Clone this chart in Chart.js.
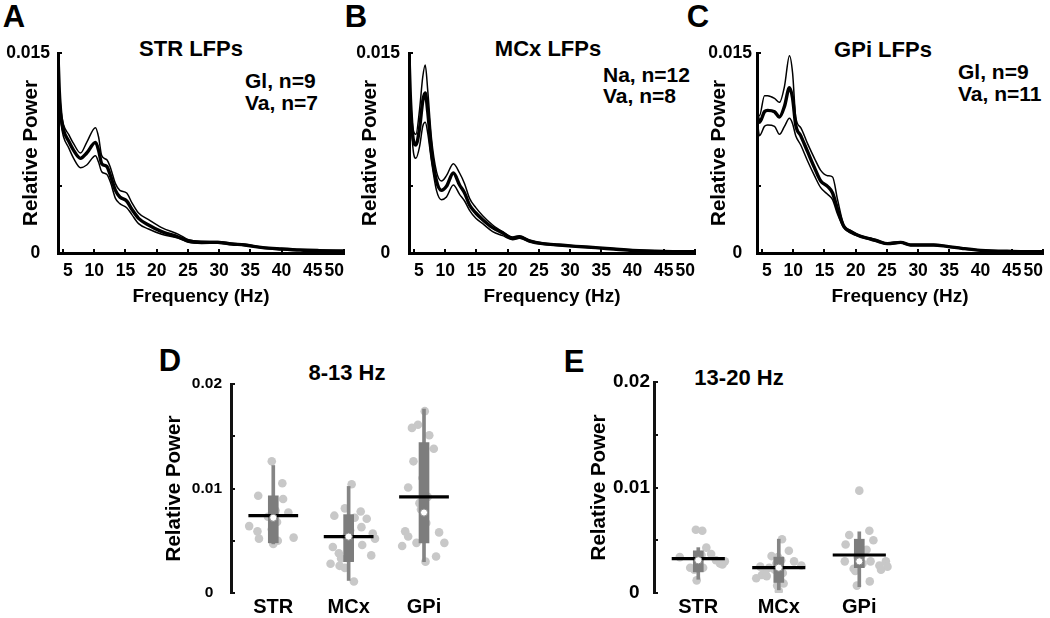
<!DOCTYPE html>
<html><head><meta charset="utf-8">
<script src="https://cdn.jsdelivr.net/npm/chart.js@4.4.0/dist/chart.umd.min.js"></script>
<style>
html,body{margin:0;padding:0;background:#fff;}
#wrap{position:relative;width:1050px;height:618px;overflow:hidden;background:#fff;font-family:"Liberation Sans",Arial,sans-serif;font-weight:bold;color:#000;}
canvas{position:absolute;}
.t{position:absolute;white-space:nowrap;line-height:1;font-weight:bold;}
.c{transform:translate(-50%,-50%);}
.l{transform:translateY(-50%);}
</style></head><body><div id="wrap">
<div class="t c" style="left:14px;top:16px;font-size:31px">A</div>
<div class="t c" style="left:356px;top:16px;font-size:31px">B</div>
<div class="t c" style="left:698px;top:16px;font-size:31px">C</div>
<div class="t c" style="left:170px;top:360px;font-size:31px">D</div>
<div class="t c" style="left:574px;top:361px;font-size:31px">E</div>
<div class="t c" style="left:191px;top:49px;font-size:22px">STR LFPs</div>
<div class="t c" style="left:548px;top:49px;font-size:22px">MCx LFPs</div>
<div class="t c" style="left:883px;top:50px;font-size:22px">GPi LFPs</div>
<div class="t l" style="left:245px;top:80px;font-size:21px">Gl, n=9</div>
<div class="t l" style="left:245px;top:102px;font-size:21px">Va, n=7</div>
<div class="t l" style="left:603px;top:74px;font-size:21px">Na, n=12</div>
<div class="t l" style="left:603px;top:95px;font-size:21px">Va, n=8</div>
<div class="t l" style="left:958px;top:71px;font-size:21px">Gl, n=9</div>
<div class="t l" style="left:958px;top:93px;font-size:21px">Va, n=11</div>
<div class="t c" style="left:347px;top:373px;font-size:22px">8-13 Hz</div>
<div class="t c" style="left:739px;top:378px;font-size:22px">13-20 Hz</div>
</div>
<script>
// ---------------- data ----------------
const xTickVals = [5, 10, 15, 20, 25, 30, 35, 40, 45, 50];
const specYTickVals = [0, 0.005, 0.01, 0.015];
const specYTickLabels = ['0', '', '', '0.015'];

// A: STR LFPs
const aFreq  = [4.2, 4.4, 4.7, 5.1, 5.9, 6.7, 7.8, 8.8, 10.2, 10.7, 11.2, 12.0, 12.6, 13.4, 14.1, 15.2, 16.0, 17.1, 18.7, 20.8, 23.5, 25.1, 27.2, 29.8, 32.0, 34.1, 37, 40, 43, 46, 50];
const aMean  = [0.0149, 0.0122, 0.0102, 0.0092, 0.0084, 0.0077, 0.0071, 0.0075, 0.0083, 0.0077, 0.0067, 0.0065, 0.0058, 0.0047, 0.0042, 0.0039, 0.0033, 0.0026, 0.0021, 0.0016, 0.0012, 0.0009, 0.0008, 0.0008, 0.00068, 0.0006, 0.0004, 0.0003, 0.00022, 0.00018, 0.00015];
const aUpper = [0.0150, 0.0125, 0.0106, 0.0096, 0.0089, 0.0082, 0.0075, 0.0083, 0.0094, 0.0087, 0.0073, 0.0070, 0.0064, 0.0052, 0.0047, 0.0045, 0.0038, 0.0030, 0.0025, 0.0019, 0.0014, 0.0010, 0.00088, 0.00086, 0.00073, 0.00065, 0.00044, 0.00033, 0.00025, 0.0002, 0.00017];
const aLower = [0.0148, 0.0117, 0.0097, 0.0087, 0.0079, 0.0071, 0.0064, 0.0066, 0.0073, 0.0068, 0.0061, 0.0059, 0.0053, 0.0041, 0.0037, 0.0034, 0.0029, 0.0022, 0.0018, 0.0014, 0.0011, 0.0008, 0.00072, 0.00074, 0.00063, 0.00056, 0.00036, 0.00027, 0.0002, 0.00016, 0.00013];

// B: MCx LFPs
const bFreq  = [4.2, 4.4, 4.85, 5.3, 5.9, 6.4, 6.8, 7.2, 7.8, 8.6, 9.4, 10.2, 11.3, 12.3, 13.1, 13.9, 14.9, 16.0, 17.6, 19.2, 20.8, 21.9, 23.5, 25.6, 28.2, 30.9, 34.1, 37, 40, 45, 50];
const bMean  = [0.0149, 0.0119, 0.0086, 0.0081, 0.0094, 0.0114, 0.0120, 0.0106, 0.0076, 0.0054, 0.0047, 0.0050, 0.0060, 0.0051, 0.0045, 0.0036, 0.0030, 0.0025, 0.0019, 0.0015, 0.0011, 0.0012, 0.0009, 0.0007, 0.0006, 0.0005, 0.0004, 0.0003, 0.0002, 0.00012, 0.0001];
const bUpper = [0.0150, 0.0122, 0.0093, 0.0089, 0.0108, 0.0132, 0.0141, 0.0122, 0.0086, 0.0061, 0.0054, 0.0058, 0.0067, 0.0060, 0.0052, 0.0041, 0.0034, 0.0028, 0.0021, 0.0016, 0.0012, 0.0013, 0.00095, 0.00075, 0.00064, 0.00053, 0.00042, 0.00032, 0.00022, 0.00014, 0.00011];
const bLower = [0.0148, 0.0115, 0.0078, 0.0071, 0.0080, 0.0095, 0.0098, 0.0090, 0.0069, 0.0047, 0.0040, 0.0042, 0.0051, 0.0044, 0.0039, 0.0032, 0.0026, 0.0022, 0.0016, 0.0013, 0.0010, 0.0011, 0.00085, 0.00065, 0.00056, 0.00047, 0.00038, 0.00028, 0.00018, 0.0001, 0.00009];

// C: GPi LFPs
const cFreq  = [4.2, 4.6, 5.4, 5.9, 7.0, 7.8, 8.6, 9.4, 9.9, 10.4, 11.2, 12.3, 13.4, 14.4, 15.5, 16.3, 17.1, 18.1, 19.2, 20.8, 22.4, 23.5, 25.1, 27.2, 28.8, 30.4, 32.5, 34.6, 37, 40, 45, 50];
const cMean  = [0.0104, 0.0098, 0.0106, 0.0107, 0.0106, 0.0102, 0.0110, 0.0124, 0.0116, 0.0096, 0.0088, 0.0076, 0.0064, 0.0054, 0.0050, 0.0045, 0.0033, 0.0020, 0.0016, 0.00125, 0.00105, 0.0009, 0.0007, 0.0008, 0.0006, 0.0006, 0.0006, 0.0005, 0.00035, 0.0002, 0.00012, 0.0001];
const cUpper = [0.0106, 0.0103, 0.0118, 0.0118, 0.0116, 0.0113, 0.0125, 0.0148, 0.0135, 0.0102, 0.0094, 0.0082, 0.0071, 0.0062, 0.0058, 0.0057, 0.0040, 0.0021, 0.0017, 0.0013, 0.0011, 0.00095, 0.00075, 0.00085, 0.00064, 0.00064, 0.00063, 0.00053, 0.00038, 0.00022, 0.00014, 0.00011];
const cLower = [0.0102, 0.0088, 0.0095, 0.0096, 0.0095, 0.0089, 0.0095, 0.0101, 0.0097, 0.0088, 0.0081, 0.0069, 0.0058, 0.0049, 0.0044, 0.0040, 0.0029, 0.0019, 0.0015, 0.0012, 0.0010, 0.00085, 0.00065, 0.00075, 0.00056, 0.00056, 0.00057, 0.00047, 0.00032, 0.00018, 0.0001, 0.00009];

// D / E: band power per region
const bandCats = ['STR', 'MCx', 'GPi'];
const bandYTickVals = [0, 0.005, 0.01, 0.015, 0.02];
const bandYTickLabels = ['0', '', '0.01', '', '0.02'];

// D: 8-13 Hz
const alphaLo     = [0.0047, 0.0012, 0.0030];
const alphaQ1     = [0.0048, 0.0030, 0.0048];
const alphaMedian = [0.0072, 0.0054, 0.0077];
const alphaQ3     = [0.0093, 0.0075, 0.0144];
const alphaHi     = [0.0122, 0.0102, 0.0176];
const alphaMean   = [0.0074, 0.0054, 0.0092];
const alphaSTR    = [0.0126, 0.0105, 0.0093, 0.0090, 0.0077, 0.0064, 0.0059, 0.0052, 0.0050, 0.0050, 0.0053, 0.0047, 0.0073, 0.0079, 0.0068, 0.0061];
const alphaSTRJit = [-0.02, 0.12, -0.2, 0.13, 0.2, -0.32, -0.21, -0.19, 0.02, 0.06, 0.27, 0, -0.07, 0.03, 0.05, -0.02];
const alphaMCx    = [0.0104, 0.0074, 0.0081, 0.0072, 0.0078, 0.0071, 0.0063, 0.0057, 0.0052, 0.0046, 0.0044, 0.0038, 0.0036, 0.0028, 0.0026, 0.0024, 0.0033, 0.0011, 0.0054, 0.0060];
const alphaMCxJit = [0.04, -0.19, -0.05, 0.08, 0.16, 0.24, 0.17, 0.32, 0.35, 0.18, -0.21, -0.13, 0.3, -0.24, -0.12, -0.05, -0.1, 0.07, -0.03, 0.02];
const alphaGPi    = [0.0174, 0.0158, 0.0161, 0.0151, 0.0138, 0.0126, 0.0101, 0.0086, 0.0059, 0.0054, 0.0058, 0.0048, 0.0048, 0.0045, 0.0035, 0.0030, 0.0092, 0.0110, 0.0067, 0.0080];
const alphaGPiJit = [0.01, -0.16, -0.08, 0.07, 0.13, -0.14, -0.21, -0.06, -0.25, -0.21, 0.2, -0.1, 0.27, -0.29, 0.16, 0.02, 0.05, -0.02, 0.03, -0.04];

// E: 13-20 Hz
const betaLo     = [0.0013, 0.0003, 0.0006];
const betaQ1     = [0.0020, 0.0010, 0.0024];
const betaMedian = [0.0031, 0.0024, 0.0030];
const betaQ3     = [0.0040, 0.0034, 0.0051];
const betaHi     = [0.0043, 0.0051, 0.0058];
const betaMean   = [0.00326, 0.0024, 0.0036];
const betaSTR    = [0.0060, 0.0059, 0.0043, 0.0037, 0.0034, 0.0024, 0.0024, 0.0028, 0.0030, 0.0031, 0.0012, 0.0022, 0.0027, 0.0033, 0.0026, 0.0036];
const betaSTRJit = [-0.03, 0.05, 0.1, 0.16, -0.23, -0.1, 0.06, 0.27, 0.33, 0.22, -0.02, -0.05, 0.3, 0.02, -0.01, 0.04];
const betaMCx    = [0.0051, 0.0040, 0.0035, 0.0030, 0.0026, 0.0025, 0.0020, 0.0017, 0.0014, 0.0007, 0.0002, 0.0024, 0.0022, 0.0019, 0.0031, 0.0028, 0.0016, 0.0012, 0.0034, 0.0009];
const betaMCxJit = [0.04, 0.125, -0.09, 0.19, 0.28, -0.23, -0.17, -0.21, -0.28, -0.02, 0, -0.12, -0.05, 0.05, 0.03, -0.03, -0.15, 0.02, -0.01, 0.06];
const betaGPi    = [0.0097, 0.0055, 0.0059, 0.0046, 0.0050, 0.0041, 0.0030, 0.0030, 0.0023, 0.0026, 0.0030, 0.0025, 0.0022, 0.0007, 0.0011, 0.0036, 0.0034, 0.0039, 0.0028, 0.0021];
const betaGPiJit = [0, -0.125, 0.125, -0.17, 0.175, 0.09, -0.18, 0.14, -0.07, 0.25, 0.33, 0.35, 0.27, -0.03, 0.13, 0.03, -0.02, 0.05, 0.04, -0.05];

// ---------------- rendering ----------------
Chart.defaults.font.family = '"Liberation Sans", Arial, sans-serif';
Chart.defaults.font.weight = 'bold';
Chart.defaults.color = '#000';
const wrap = document.getElementById('wrap');
const Y_TITLE_SIZE = 20.5;
const X_TITLE_SIZE = 19;

const inwardTicks = {
  id: 'inwardTicks',
  afterDraw(chart, args, opts) {
    const ctx = chart.ctx, a = chart.chartArea;
    ctx.save();
    ctx.strokeStyle = opts.color || '#000';
    ctx.lineWidth = opts.width || 2;
    if (opts.y) {
      const s = chart.scales.y;
      s.ticks.forEach(t => {
        const p = Math.round(s.getPixelForValue(t.value));
        ctx.beginPath(); ctx.moveTo(a.left, p); ctx.lineTo(a.left + opts.y, p); ctx.stroke();
      });
    }
    if (opts.x) {
      const s = chart.scales.x;
      s.ticks.forEach(t => {
        const p = Math.round(s.getPixelForValue(t.value));
        ctx.beginPath(); ctx.moveTo(p, a.bottom); ctx.lineTo(p, a.bottom - opts.x); ctx.stroke();
      });
    }
    ctx.restore();
  }
};

function makeCanvas(box) {
  const c = document.createElement('canvas');
  c.width = box.right - box.left; c.height = box.bottom - box.top;
  c.style.left = box.left + 'px'; c.style.top = box.top + 'px';
  wrap.appendChild(c);
  return c;
}
const zeroShift = l => (l === '0' ? '0  ' : l);
const xy = (xs, ys) => xs.map((x, i) => ({x: x, y: ys[i]}));

function spectrumPanel(box, area, freq, mean, upper, lower, o) {
  const c = makeCanvas(box);
  const ds = (vals, w, order) => ({type: 'line', data: xy(freq, vals), borderColor: '#000', borderWidth: w,
    pointRadius: 0, cubicInterpolationMode: 'monotone', fill: false, order: order});
  new Chart(c, {
    type: 'scatter',
    data: {datasets: [ds(mean, 3.4, 1), ds(upper, 1.5, 2), ds(lower, 1.5, 3)]},
    options: {
      responsive: false, animation: false, events: [],
      layout: {padding: {top: area.t - box.top, right: box.right - area.r, left: 0, bottom: 0}},
      plugins: {legend: {display: false}, tooltip: {enabled: false}, inwardTicks: {x: 4, y: 4, width: 2}},
      scales: {
        x: {type: 'linear', min: 4.2, max: 50, offset: false,
          afterBuildTicks: s => { s.ticks = xTickVals.map(v => ({value: v})); },
          afterFit: s => { s.height = box.bottom - area.b; s.paddingLeft = 0; s.paddingRight = 0; },
          grid: {display: false, drawTicks: false, offset: false},
          border: {display: true, width: 3, color: '#000'},
          ticks: {font: {size: 17.5, weight: 'bold'}, color: '#000', padding: 7.5, align: 'inner', maxRotation: 0, autoSkip: false,
            callback: (v, i) => String(xTickVals[i])},
          title: {display: true, text: 'Frequency (Hz)', font: {size: X_TITLE_SIZE, weight: 'bold'}, color: '#000',
            padding: {top: 0, bottom: 310 - 297 - X_TITLE_SIZE * 0.6}}
        },
        y: {type: 'linear', min: 0, max: 0.015,
          afterBuildTicks: s => { s.ticks = specYTickVals.map(v => ({value: v})); },
          afterFit: s => { s.width = area.l - box.left; },
          grid: {display: false, drawTicks: false},
          border: {display: true, width: 3, color: '#000'},
          ticks: {font: {size: 17.5, weight: 'bold'}, color: '#000', padding: o.yTickPad, autoSkip: false,
            callback: (v, i) => zeroShift(specYTickLabels[i])},
          title: {display: true, text: 'Relative Power', font: {size: Y_TITLE_SIZE, weight: 'bold'}, color: '#000',
            padding: {top: o.yTitleX - box.left - Y_TITLE_SIZE * 0.6, bottom: 0}}
        }
      }
    },
    plugins: [inwardTicks]
  });
}

function bandPanel(box, area, lo, q1, med, q3, hi, mean, pts, jits, o) {
  const c = makeCanvas(box);
  const scatterPts = [];
  pts.forEach((vals, i) => vals.forEach((v, j) => scatterPts.push({x: i + 1 + jits[i][j], y: v})));
  const whisk = lo.map((v, i) => ({x: i + 1, y: [v, hi[i]]}));
  const boxes = q1.map((v, i) => ({x: i + 1, y: [v, q3[i]]}));
  const meanSeg = [];
  mean.forEach((v, i) => { meanSeg.push({x: i + 1 - 0.33, y: v}, {x: i + 1 + 0.33, y: v}, {x: i + 1.5, y: null}); });
  const meds = med.map((v, i) => ({x: i + 1, y: v}));
  new Chart(c, {
    type: 'scatter',
    data: {datasets: [
      {type: 'scatter', data: scatterPts, pointRadius: 4.3, pointBackgroundColor: '#c8c8c8', pointBorderWidth: 0, order: 5},
      {type: 'bar', data: whisk, backgroundColor: '#858585', barThickness: 3, grouped: false, order: 4},
      {type: 'bar', data: boxes, backgroundColor: '#7d7d7d', barThickness: 10, grouped: false, order: 3},
      {type: 'line', data: meanSeg, borderColor: '#000', borderWidth: 3.2, pointRadius: 0, spanGaps: false, fill: false, order: 2},
      {type: 'scatter', data: meds, pointRadius: 3.6, pointBackgroundColor: '#fff', pointBorderColor: '#8a8a8a', pointBorderWidth: 1, order: 1}
    ]},
    options: {
      responsive: false, animation: false, events: [],
      layout: {padding: {top: area.t - box.top, right: box.right - area.r, left: 0, bottom: 0}},
      plugins: {legend: {display: false}, tooltip: {enabled: false}, inwardTicks: {y: 4, width: 2, color: '#111'}},
      scales: {
        x: {type: 'linear', min: o.xMin, max: o.xMax, offset: false,
          afterBuildTicks: s => { s.ticks = bandCats.map((_, i) => ({value: i + 1})); },
          afterFit: s => { s.height = box.bottom - area.b; s.paddingLeft = 0; s.paddingRight = 0; },
          grid: {display: false, drawTicks: false, offset: false},
          border: {display: false},
          ticks: {font: {size: 20, weight: 'bold'}, color: '#000', padding: 2, maxRotation: 0, autoSkip: false,
            callback: (v, i) => bandCats[i]}
        },
        y: {type: 'linear', min: 0, max: 0.02,
          afterBuildTicks: s => { s.ticks = bandYTickVals.map(v => ({value: v})); },
          afterFit: s => { s.width = area.l - box.left; },
          grid: {display: false, drawTicks: false},
          border: {display: true, width: 3, color: '#111'},
          ticks: {font: {size: o.tickSize, weight: 'bold'}, color: '#000', padding: o.yTickPad, autoSkip: false,
            callback: (v, i) => zeroShift(bandYTickLabels[i])},
          title: {display: true, text: 'Relative Power', font: {size: Y_TITLE_SIZE, weight: 'bold'}, color: '#000',
            padding: {top: o.yTitleX - box.left - Y_TITLE_SIZE * 0.6, bottom: 0}}
        }
      }
    },
    plugins: [inwardTicks]
  });
}

spectrumPanel({left: 0, top: 33, right: 358, bottom: 310}, {l: 58, r: 344, t: 53, b: 253},
  aFreq, aMean, aUpper, aLower, {yTickPad: 8, yTitleX: 31});
spectrumPanel({left: 350, top: 33, right: 709, bottom: 310}, {l: 409, r: 695, t: 53, b: 253},
  bFreq, bMean, bUpper, bLower, {yTickPad: 9, yTitleX: 370});
spectrumPanel({left: 700, top: 33, right: 1050, bottom: 310}, {l: 757, r: 1043, t: 53, b: 253},
  cFreq, cMean, cUpper, cLower, {yTickPad: 5, yTitleX: 719});

bandPanel({left: 150, top: 364, right: 490, bottom: 618}, {l: 231, r: 469, t: 384, b: 593},
  alphaLo, alphaQ1, alphaMedian, alphaQ3, alphaHi, alphaMean,
  [alphaSTR, alphaMCx, alphaGPi], [alphaSTRJit, alphaMCxJit, alphaGPiJit],
  {xMin: 0.439, xMax: 3.597, tickSize: 15.5, yTickPad: 9, yTitleX: 174});
bandPanel({left: 580, top: 362, right: 930, bottom: 618}, {l: 654, r: 908, t: 382, b: 593},
  betaLo, betaQ1, betaMedian, betaQ3, betaHi, betaMean,
  [betaSTR, betaMCx, betaGPi], [betaSTRJit, betaMCxJit, betaGPiJit],
  {xMin: 0.45, xMax: 3.605, tickSize: 19, yTickPad: 4, yTitleX: 599});
</script>
</body></html>
